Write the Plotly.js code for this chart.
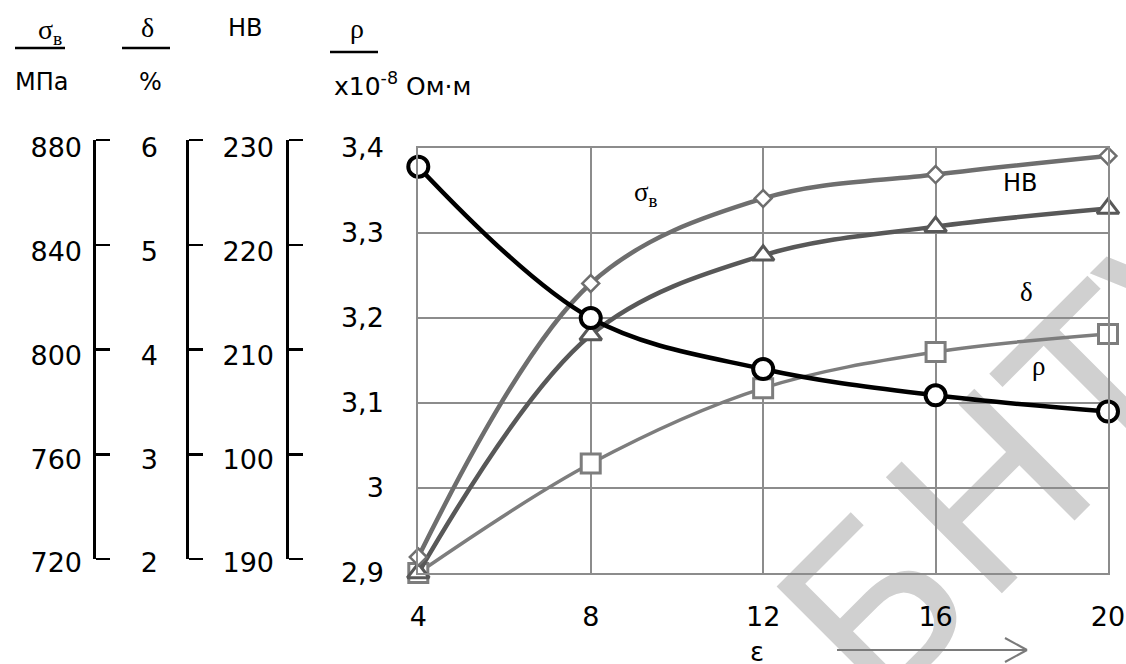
<!DOCTYPE html>
<html>
<head>
<meta charset="utf-8">
<script src="https://cdn.plot.ly/plotly-3.0.1.min.js"></script>
<style>html,body{margin:0;padding:0;background:#fff;}#chart{width:1126px;height:664px;}</style>
</head>
<body>
<div id="chart"></div>
<script>
// ---- data ----
const eps = [4, 8, 12, 16, 20];                       // ε, %
const sigmaB = [726, 829, 861, 870, 877];             // σв, МПа  (diamonds)
const hardnessHB = [190, 212.4, 219.9, 222.6, 224.3]; // HB (triangles)
const delta = [2.0, 3.03, 3.74, 4.08, 4.25];          // δ, % (squares)
const rho = [3.378, 3.2, 3.14, 3.109, 3.09];          // ρ, x10^-8 Ом·м (circles)

// ---- tick labels ----
const epsTicks = [4, 8, 12, 16, 20];
const sigmaTickVals = [720, 760, 800, 840, 880];
const sigmaTickText = ['720', '760', '800', '840', '880'];
const deltaTickVals = [2, 3, 4, 5, 6];
const deltaTickText = ['2', '3', '4', '5', '6'];
const hbTickVals = [190, 200, 210, 220, 230];
const hbTickText = ['190', '100', '210', '220', '230'];
const rhoTickVals = [2.9, 3.0, 3.1, 3.2, 3.3, 3.4];
const rhoTickText = ['2,9', '3', '3,1', '3,2', '3,3', '3,4'];

// ---- geometry helpers (pixel -> paper) ----
const PW = 1108, PB = 573, PH = 433;
const px = v => v / PW;
const py = v => (PB - v) / PH;

const SANS = 'DejaVu Sans, sans-serif';
const SERIF = 'Liberation Serif, Times New Roman, serif';
const GRID = '#8c8c8c';

// bracket: vertical line with ticks pointing right, no labels
const bracketAxis = (pos, vals, rng) => ({
  domain: [py(559), 1], range: rng, anchor: 'free', position: px(pos), side: 'right',
  showline: true, linecolor: '#000', linewidth: 2.5,
  ticks: 'outside', ticklen: 14, tickwidth: 2.5, tickcolor: '#000',
  tickmode: 'array', tickvals: vals, showticklabels: false,
  showgrid: false, zeroline: false, fixedrange: true
});
// labels to the left of a bracket
const labelAxis = (pos, vals, text, rng, standoff) => ({
  domain: [py(563), py(148)], range: rng, anchor: 'free', position: px(pos), side: 'left',
  showline: false, ticks: '', tickmode: 'array', tickvals: vals, ticktext: text,
  showgrid: false, zeroline: false, fixedrange: true,
  tickfont: {family: SANS, size: 27, color: '#000'}, ticklabelstandoff: standoff
});

const hidden = rng => ({overlaying: 'y', anchor: 'x', range: rng, visible: false, fixedrange: true});
const empty = (xa, ya) => ({x: [], y: [], xaxis: xa, yaxis: ya, type: 'scatter', showlegend: false, hoverinfo: 'skip'});

const traces = [
  empty('x', 'y'),
  empty('x2', 'y2'), empty('x2', 'y3'), empty('x2', 'y4'),
  empty('x2', 'y9'), empty('x2', 'y10'), empty('x2', 'y11'),
  { // δ squares
    x: eps, y: delta, xaxis: 'x', yaxis: 'y5', type: 'scatter', mode: 'lines+markers', name: 'δ',
    line: {shape: 'spline', color: '#7d7d7d', width: 3.5}, cliponaxis: false,
    marker: {symbol: 'square', size: 19, color: '#fff', line: {color: '#7d7d7d', width: 3}}
  },
  { // HB triangles
    x: eps, y: hardnessHB, xaxis: 'x', yaxis: 'y6', type: 'scatter', mode: 'lines+markers', name: 'HB',
    line: {shape: 'spline', color: '#585858', width: 4.5}, cliponaxis: false,
    marker: {symbol: 'triangle-up', size: 19, color: '#fff', line: {color: '#585858', width: 3}}
  },
  { // σв diamonds
    x: eps, y: sigmaB, xaxis: 'x', yaxis: 'y7', type: 'scatter', mode: 'lines+markers', name: 'σв',
    line: {shape: 'spline', color: '#6e6e6e', width: 4.5}, cliponaxis: false,
    marker: {symbol: 'diamond', size: 13, color: '#fff', line: {color: '#6e6e6e', width: 2.5}}
  },
  { // ρ circles
    x: eps, y: rho, xaxis: 'x', yaxis: 'y8', type: 'scatter', mode: 'lines+markers', name: 'ρ',
    line: {shape: 'spline', color: '#000', width: 4.5}, cliponaxis: false,
    marker: {symbol: 'circle', size: 20, color: '#fff', line: {color: '#000', width: 4}}
  }
];

const layout = {
  width: 1126, height: 664,
  margin: {l: 0, r: 18, t: 140, b: 91},
  paper_bgcolor: '#fff', plot_bgcolor: 'rgba(0,0,0,0)',
  showlegend: false, hovermode: false,
  font: {family: SANS, color: '#000'},
  xaxis: {
    domain: [px(418.3), 1], range: [4, 20], anchor: 'y',
    tickmode: 'array', tickvals: epsTicks, ticks: '',
    showgrid: true, gridcolor: GRID, gridwidth: 2, zeroline: false,
    showline: true, mirror: true, linecolor: GRID, linewidth: 2,
    tickfont: {family: SANS, size: 27, color: '#000'}, ticklabelstandoff: 19, fixedrange: true
  },
  yaxis: {
    domain: [0, py(148)], range: [2.9, 3.4], anchor: 'x',
    tickmode: 'array', tickvals: rhoTickVals, ticktext: rhoTickText, ticks: '',
    showgrid: true, gridcolor: GRID, gridwidth: 2, zeroline: false,
    showline: true, mirror: true, linecolor: GRID, linewidth: 2,
    tickfont: {family: SANS, size: 27, color: '#000'}, ticklabelstandoff: 27, fixedrange: true
  },
  xaxis2: {visible: false, domain: [0, 0.3], range: [0, 1], anchor: 'y2', fixedrange: true},
  yaxis2: bracketAxis(94, sigmaTickVals, [720, 880]),
  yaxis3: bracketAxis(187, deltaTickVals, [2, 6]),
  yaxis4: bracketAxis(287, hbTickVals, [190, 230]),
  yaxis9: labelAxis(94, sigmaTickVals, sigmaTickText, [720, 880], 12),
  yaxis10: labelAxis(187, deltaTickVals, deltaTickText, [2, 6], 29),
  yaxis11: labelAxis(287, hbTickVals, hbTickText, [190, 230], 13),
  yaxis5: hidden([2, 6]),
  yaxis6: hidden([190, 230]),
  yaxis7: hidden([720, 880]),
  yaxis8: hidden([2.9, 3.4]),
  shapes: [
    { // watermark
      type: 'rect', xref: 'paper', yref: 'paper', layer: 'below',
      x0: px(1012), x1: px(1032), y0: py(450), y1: py(430),
      line: {width: 0}, fillcolor: 'rgba(0,0,0,0)',
      label: {text: 'БНТУ', textangle: -45, textposition: 'middle center',
              font: {family: SANS, size: 225, color: '#d0d0d0'}}
    },
    {type: 'line', xref: 'paper', yref: 'paper', x0: px(15), x1: px(65), y0: py(48), y1: py(48), line: {color: '#000', width: 2.5}},
    {type: 'line', xref: 'paper', yref: 'paper', x0: px(122), x1: px(170), y0: py(48), y1: py(48), line: {color: '#000', width: 2.5}},
    {type: 'line', xref: 'paper', yref: 'paper', x0: px(330), x1: px(378), y0: py(52), y1: py(52), line: {color: '#000', width: 2.5}},
    // arrow under the x axis
    {type: 'line', xref: 'paper', yref: 'paper', x0: px(837), x1: px(1027), y0: py(650), y1: py(650), line: {color: '#7a7a7a', width: 2}},
    {type: 'line', xref: 'paper', yref: 'paper', x0: px(1005), x1: px(1027), y0: py(638), y1: py(650), line: {color: '#7a7a7a', width: 2}},
    {type: 'line', xref: 'paper', yref: 'paper', x0: px(1005), x1: px(1027), y0: py(662), y1: py(650), line: {color: '#7a7a7a', width: 2}}
  ],
  annotations: [
    // header
    {xref: 'paper', yref: 'paper', x: px(50), y: py(32), text: 'σ<sub>в</sub>', showarrow: false, xanchor: 'center', yanchor: 'middle', font: {family: SERIF, size: 28}},
    {xref: 'paper', yref: 'paper', x: px(41), y: py(82), text: 'МПа', showarrow: false, xanchor: 'center', yanchor: 'middle', font: {family: SANS, size: 24}},
    {xref: 'paper', yref: 'paper', x: px(147), y: py(27), text: 'δ', showarrow: false, xanchor: 'center', yanchor: 'middle', font: {family: SERIF, size: 28}},
    {xref: 'paper', yref: 'paper', x: px(150), y: py(82), text: '%', showarrow: false, xanchor: 'center', yanchor: 'middle', font: {family: SANS, size: 24}},
    {xref: 'paper', yref: 'paper', x: px(245), y: py(28), text: 'HB', showarrow: false, xanchor: 'center', yanchor: 'middle', font: {family: SANS, size: 24}},
    {xref: 'paper', yref: 'paper', x: px(357), y: py(28), text: 'ρ', showarrow: false, xanchor: 'center', yanchor: 'middle', font: {family: SERIF, size: 28}},
    {xref: 'paper', yref: 'paper', x: px(332), y: py(84), text: 'x10<sup>-8</sup> Ом·м', showarrow: false, xanchor: 'left', yanchor: 'middle', font: {family: SANS, size: 25}},
    // curve labels
    {xref: 'paper', yref: 'paper', x: px(646), y: py(194), text: 'σ<sub>в</sub>', showarrow: false, xanchor: 'center', yanchor: 'middle', font: {family: SERIF, size: 27}},
    {xref: 'paper', yref: 'paper', x: px(1020), y: py(183), text: 'HB', showarrow: false, xanchor: 'center', yanchor: 'middle', font: {family: SANS, size: 24}},
    {xref: 'paper', yref: 'paper', x: px(1026), y: py(292), text: 'δ', showarrow: false, xanchor: 'center', yanchor: 'middle', font: {family: SERIF, size: 27}},
    {xref: 'paper', yref: 'paper', x: px(1038), y: py(366), text: 'ρ', showarrow: false, xanchor: 'center', yanchor: 'middle', font: {family: SERIF, size: 27}},
    // x axis title
    {xref: 'paper', yref: 'paper', x: px(757), y: py(652), text: 'ε', showarrow: false, xanchor: 'center', yanchor: 'middle', font: {family: SANS, size: 26}}
  ]
};

Plotly.newPlot('chart', traces, layout, {displayModeBar: false, staticPlot: true});
</script>
</body>
</html>
